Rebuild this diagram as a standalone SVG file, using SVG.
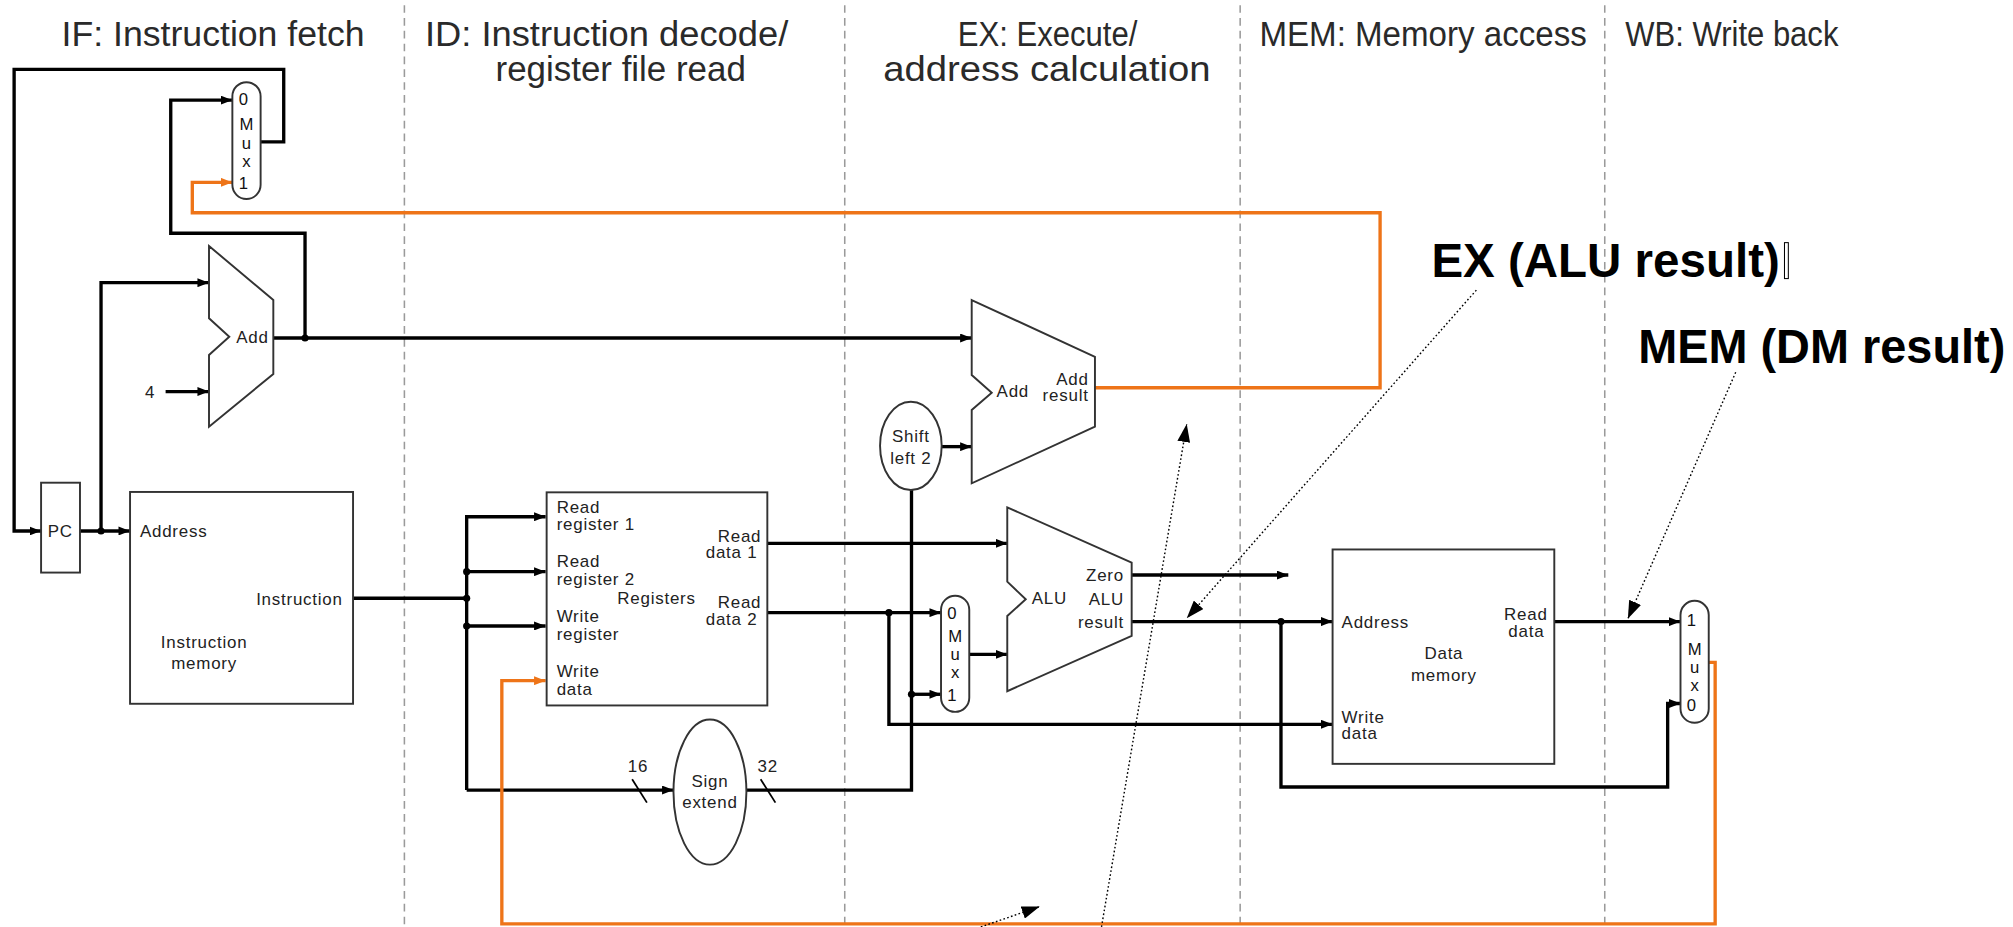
<svg xmlns="http://www.w3.org/2000/svg" width="2013" height="927" viewBox="0 0 2013 927">
<defs>
<style>
.t{font-family:"Liberation Sans",Arial,sans-serif;fill:#222}
.title{font-size:27px;fill:#2a2a2a}
.lbl{font-size:13.2px;letter-spacing:0.6px}
.mx{font-size:13px;fill:#111}
.ann{font-family:"Liberation Sans",Arial,sans-serif;font-weight:bold;font-size:37px;fill:#000}
.box{fill:#fff;stroke:#333;stroke-width:1.5}
.w{fill:none;stroke:#000;stroke-width:2.6}
.o{fill:none;stroke:#EE7418;stroke-width:2.6}
.sep{stroke:#9a9a9a;stroke-width:1.2;stroke-dasharray:6 4}
.dl{fill:none;stroke:#000;stroke-width:1.1;stroke-dasharray:1.3 1.8}
</style>
<marker id="ab" markerUnits="userSpaceOnUse" markerWidth="9" markerHeight="7" refX="9" refY="3.5" orient="auto"><path d="M0,0 L9,3.5 L0,7 z" fill="#000"/></marker>
<marker id="ao" markerUnits="userSpaceOnUse" markerWidth="9" markerHeight="7" refX="9" refY="3.5" orient="auto"><path d="M0,0 L9,3.5 L0,7 z" fill="#EE7418"/></marker>
<marker id="ad" markerUnits="userSpaceOnUse" markerWidth="14" markerHeight="10" refX="14" refY="5" orient="auto"><path d="M0,0 L14,5 L0,10 z" fill="#000"/></marker>
</defs>
<rect width="2013" height="927" fill="#fff"/>
<g transform="scale(1.2838)">
<g id="separators">
<line class="sep" x1="315" y1="4" x2="315" y2="722"/>
<line class="sep" x1="658" y1="4" x2="658" y2="722"/>
<line class="sep" x1="966" y1="4" x2="966" y2="722"/>
<line class="sep" x1="1250" y1="4" x2="1250" y2="722"/>
</g>
<g id="titles" class="t title">
<text x="48" y="36" textLength="236" lengthAdjust="spacingAndGlyphs">IF: Instruction fetch</text>
<text x="331" y="36" textLength="283" lengthAdjust="spacingAndGlyphs">ID: Instruction decode/</text>
<text x="386" y="63" textLength="195" lengthAdjust="spacingAndGlyphs">register file read</text>
<text x="746" y="36" textLength="140" lengthAdjust="spacingAndGlyphs">EX: Execute/</text>
<text x="688" y="63" textLength="255" lengthAdjust="spacingAndGlyphs">address calculation</text>
<text x="981" y="36" textLength="255" lengthAdjust="spacingAndGlyphs">MEM: Memory access</text>
<text x="1266" y="36" textLength="166" lengthAdjust="spacingAndGlyphs">WB: Write back</text>
</g>
<g id="connectors">
<path class="w" d="M203,110.5 H221 V54 H11 V413.6 H32" marker-end="url(#ab)"/>
<path class="w" d="M237.6,263.3 V181.7 H133 V78 H181" marker-end="url(#ab)"/>
<path class="w" d="M62.3,413.6 H101.3" marker-end="url(#ab)"/>
<path class="w" d="M78.7,413.6 V220.2 H162.8" marker-end="url(#ab)"/>
<path class="w" d="M129,305 H162.8" marker-end="url(#ab)"/>
<path class="w" d="M212.9,263.3 H756.9" marker-end="url(#ab)"/>
<path class="w" d="M275,466 H363.5"/>
<path class="w" d="M363.5,615.4 V402.5 H425" marker-end="url(#ab)"/>
<path class="w" d="M363.5,615.4 H524.7" marker-end="url(#ab)"/>
<path class="w" d="M363.5,445.3 H425" marker-end="url(#ab)"/>
<path class="w" d="M363.5,487.6 H425" marker-end="url(#ab)"/>
<path class="w" d="M581.4,615.4 H710 V381.7"/>
<path class="w" d="M710,540.8 H733" marker-end="url(#ab)"/>
<path class="w" d="M733.5,347.9 H756.9" marker-end="url(#ab)"/>
<path class="w" d="M597.7,423.2 H784.6" marker-end="url(#ab)"/>
<path class="w" d="M597.7,477.2 H733" marker-end="url(#ab)"/>
<path class="w" d="M692.4,477.2 V564.2 H1038" marker-end="url(#ab)"/>
<path class="w" d="M755,509.7 H784.6" marker-end="url(#ab)"/>
<path class="w" d="M881.5,447.9 H1003.5" marker-end="url(#ab)"/>
<path class="w" d="M881.5,484.2 H1038" marker-end="url(#ab)"/>
<path class="w" d="M997.8,484.2 V613 H1299 V548 H1309" marker-end="url(#ab)"/>
<path class="w" d="M1210.7,484.2 H1309" marker-end="url(#ab)"/>
<path class="o" d="M852.9,302 H1075 V165.7 H149.8 V142 H181" marker-end="url(#ao)"/>
<path class="o" d="M1331,516 H1336 V719.7 H390.9 V530.2 H425" marker-end="url(#ao)"/>
<g fill="#000">
<circle cx="237.6" cy="263.3" r="2.8"/>
<circle cx="78.7" cy="413.6" r="2.8"/>
<circle cx="363.5" cy="445.3" r="2.8"/>
<circle cx="363.5" cy="466" r="2.8"/>
<circle cx="363.5" cy="487.6" r="2.8"/>
<circle cx="710" cy="540.8" r="2.8"/>
<circle cx="692.4" cy="477.2" r="2.8"/>
<circle cx="997.8" cy="484.2" r="2.8"/>
</g>
<path class="dl" d="M1150,226 L924.4,481.6" marker-end="url(#ad)"/>
<path class="dl" d="M1352,290 L1268,482" marker-end="url(#ad)"/>
<path class="dl" d="M858,722 L924.4,330.3" marker-end="url(#ad)"/>
<path class="dl" d="M764,722 L809.9,706.2" marker-end="url(#ad)"/>
</g>
<g id="if-mux">
<rect class="box" x="181" y="64" width="22" height="91" rx="11"/>
<g class="t mx" text-anchor="middle">
<text x="189.5" y="82">0</text><text x="192" y="101">M</text><text x="192" y="116">u</text><text x="192" y="130">x</text><text x="189.5" y="147">1</text>
</g>
</g>
<g id="if-adder">
<polygon class="box" points="162.8,191.6 212.9,233.7 212.9,291.3 162.8,332.4 162.8,276.5 178.6,262.3 162.8,247.9"/>
<text class="t lbl" x="184" y="267">Add</text>
<text class="t lbl" x="117" y="310" text-anchor="middle">4</text>
</g>
<g id="pc">
<rect class="box" x="32" y="376" width="30.3" height="70"/>
<text class="t lbl" x="47" y="418" text-anchor="middle">PC</text>
</g>
<g id="instruction-memory">
<rect class="box" x="101.3" y="383.2" width="173.7" height="165"/>
<text class="t lbl" x="109" y="418">Address</text>
<text class="t lbl" x="267" y="471" text-anchor="end">Instruction</text>
<text class="t lbl" x="159" y="505" text-anchor="middle">Instruction</text>
<text class="t lbl" x="159" y="521" text-anchor="middle">memory</text>
</g>
<g id="registers">
<rect class="box" x="425.8" y="383.5" width="171.9" height="166"/>
<g class="t lbl">
<text x="433.6" y="399.8">Read</text><text x="433.6" y="412.8">register 1</text>
<text x="433.6" y="441.9">Read</text><text x="433.6" y="455.6">register 2</text>
<text x="433.6" y="484.7">Write</text><text x="433.6" y="498.5">register</text>
<text x="433.6" y="527">Write</text><text x="433.6" y="541">data</text>
<text x="480.8" y="470.7">Registers</text>
</g>
<g class="t lbl" text-anchor="end">
<text x="593" y="421.9">Read</text><text x="590" y="434.9">data 1</text>
<text x="593" y="473.8">Read</text><text x="590" y="486.8">data 2</text>
</g>
</g>
<g id="sign-extend">
<ellipse class="box" cx="553" cy="617" rx="28.4" ry="56.5"/>
<text class="t lbl" x="553" y="612.8" text-anchor="middle">Sign</text>
<text class="t lbl" x="553" y="629.6" text-anchor="middle">extend</text>
<text class="t lbl" x="497" y="601" text-anchor="middle">16</text>
<text class="t lbl" x="598" y="601" text-anchor="middle">32</text>
<line x1="492.4" y1="607" x2="503.9" y2="625.2" stroke="#000" stroke-width="1.4"/>
<line x1="592.5" y1="607" x2="604" y2="625.2" stroke="#000" stroke-width="1.4"/>
</g>
<g id="shift-left-2">
<ellipse class="box" cx="709.5" cy="347.3" rx="24" ry="34.4"/>
<text class="t lbl" x="709.5" y="344" text-anchor="middle">Shift</text>
<text class="t lbl" x="709.5" y="361.4" text-anchor="middle">left 2</text>
</g>
<g id="ex-adder">
<polygon class="box" points="756.9,233.7 852.9,277.9 852.9,332.3 756.9,376.5 756.9,319.4 772.5,305.9 756.9,292.1"/>
<text class="t lbl" x="776.3" y="309">Add</text>
<text class="t lbl" x="848" y="300" text-anchor="end">Add</text>
<text class="t lbl" x="848" y="312" text-anchor="end">result</text>
</g>
<g id="ex-mux">
<rect class="box" x="733" y="464" width="22" height="90.5" rx="11"/>
<g class="t mx" text-anchor="middle">
<text x="741.5" y="482">0</text><text x="744" y="500">M</text><text x="744" y="514">u</text><text x="744" y="528">x</text><text x="741.5" y="546">1</text>
</g>
</g>
<g id="alu">
<polygon class="box" points="784.6,395.2 881.5,438.3 881.5,495.3 784.6,538.4 784.6,479.8 799,466.8 784.6,453.1"/>
<text class="t lbl" x="803.6" y="470.5">ALU</text>
<g class="t lbl" text-anchor="end">
<text x="875.5" y="452.6">Zero</text>
<text x="875.5" y="471.3">ALU</text>
<text x="875.5" y="488.9">result</text>
</g>
</g>
<g id="data-memory">
<rect class="box" x="1038" y="428" width="172.7" height="167"/>
<g class="t lbl">
<text x="1045" y="489.4">Address</text>
<text x="1045" y="563">Write</text><text x="1045" y="575.5">data</text>
<text x="1124.7" y="513.3" text-anchor="middle">Data</text>
<text x="1124.7" y="530.2" text-anchor="middle">memory</text>
<text x="1205.5" y="483" text-anchor="end">Read</text>
<text x="1203" y="496.4" text-anchor="end">data</text>
</g>
</g>
<g id="wb-mux">
<rect class="box" x="1309" y="468" width="22" height="95" rx="11"/>
<g class="t mx" text-anchor="middle">
<text x="1317.5" y="488">1</text><text x="1320" y="510">M</text><text x="1320" y="524">u</text><text x="1320" y="538">x</text><text x="1317.5" y="554">0</text>
</g>
</g>
<g id="annotations">
<text class="ann" x="1115" y="216">EX (ALU result)</text>
<rect x="1390" y="189" width="3" height="28" fill="none" stroke="#000" stroke-width="0.8"/>
<text class="ann" x="1276" y="283" textLength="286" lengthAdjust="spacingAndGlyphs">MEM (DM result)</text>
</g>
</g>
</svg>
